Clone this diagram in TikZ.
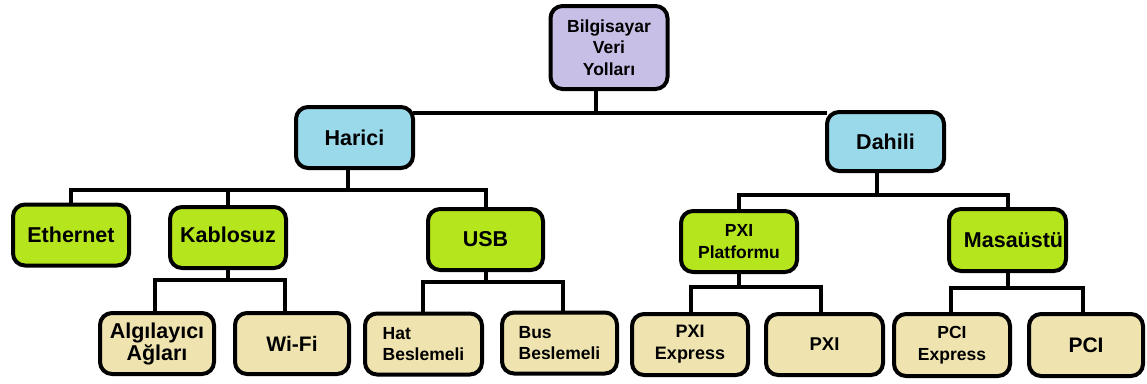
\documentclass[tikz,border=0pt]{standalone}
\usepackage{fontspec}
\setmainfont{Liberation Sans}
\definecolor{lav}{HTML}{C8BFE7}
\definecolor{lblue}{HTML}{99D9EA}
\definecolor{lgreen}{HTML}{B5E61D}
\definecolor{lbeige}{HTML}{EFE4B0}
\tikzset{
  box/.style={draw=black, line width=4pt, rounded corners=12pt, inner sep=0pt,
    font=\bfseries\fontsize{21.5}{23}\selectfont, align=center},
  small/.style={font=\bfseries\fontsize{17.5}{21.5}\selectfont},
  conn/.style={line width=4pt, line cap=rect},
}
\begin{document}
\begin{tikzpicture}[x=1pt,y=-1pt]
\useasboundingbox (0,0) rectangle (1147,383);
% level 0
\node[box, small, fill=lav, minimum width=117pt, minimum height=83pt] (root) at (609,47.5) {Bilgisayar\\Veri\\Yolları};
% level 1
\node[box, fill=lblue, minimum width=117pt, minimum height=61pt] (harici) at (354.5,137.5) {Harici};
\node[box, fill=lblue, minimum width=117pt, minimum height=59pt] (dahili) at (885.5,141.5) {Dahili};
% level 2
\node[box, fill=lgreen, minimum width=116pt, minimum height=61pt] (eth) at (71,235) {Ethernet};
\node[box, fill=lgreen, minimum width=116pt, minimum height=61pt] (kab) at (228,237.5) {\raisebox{5pt}{Kablosuz}};
\node[box, fill=lgreen, minimum width=115pt, minimum height=61pt] (usb) at (485.5,239.5) {USB};
\node[box, small, fill=lgreen, minimum width=116pt, minimum height=61pt] (pxip) at (739,241.5) {PXI\\Platformu};
\node[box, fill=lgreen, minimum width=117pt, minimum height=62pt] (masa) at (1007.5,240) {\hspace*{12pt}Masaüstü};
% level 3
\node[box, fill=lbeige, minimum width=114pt, minimum height=61pt,
  font=\bfseries\fontsize{21.5}{22}\selectfont] (alg) at (157,343.5) {Algılayıcı\\Ağları};
\node[box, fill=lbeige, minimum width=114pt, minimum height=61pt,
  font=\bfseries\fontsize{21}{22}\selectfont] (wifi) at (292,343.5) {Wi-Fi};
\node[box, small, fill=lbeige, minimum width=117pt, minimum height=61pt, align=left] (hat) at (423.5,344) {Hat\\Beslemeli};
\node[box, small, fill=lbeige, minimum width=115pt, minimum height=61pt, align=left] (bus) at (559.5,343) {Bus\\Beslemeli};
\node[box, fill=lbeige, minimum width=116pt, minimum height=61pt,
  font=\bfseries\fontsize{18}{22}\selectfont] (pxie) at (690,344.5) {PXI\\Express};
\node[box, fill=lbeige, minimum width=117pt, minimum height=61pt,
  font=\bfseries\fontsize{18.5}{22}\selectfont] (pxi) at (824.5,344.5) {PXI};
\node[box, small, fill=lbeige, minimum width=116pt, minimum height=62pt] (pcie) at (952,345) {PCI\\Express};
\node[box, fill=lbeige, minimum width=114pt, minimum height=62pt,
  font=\bfseries\fontsize{21}{22}\selectfont] (pci) at (1086,345) {PCI};
% bus coordinates
\coordinate (j0) at (596,113);
\coordinate (j1) at (348,190);
\coordinate (j2) at (877,195);
\coordinate (k1) at (155,280);
\coordinate (k2) at (285,280);
\coordinate (u1) at (423,282);
\coordinate (u2) at (563,282);
\coordinate (p1) at (691,287);
\coordinate (p2) at (821,287);
\coordinate (m1) at (951,288);
\coordinate (m2) at (1083,288);
% connectors
\draw[conn] (j0 |- root.south) -- (j0);
\draw[conn] (harici.east |- j0) -- (dahili.west |- j0);
\draw[conn] (j1 |- harici.south) -- (j1);
\draw[conn] (eth.north) |- (j1) -| (usb.north);
\draw[conn] (kab.north) -- (kab.north |- j1);
\draw[conn] (j2 |- dahili.south) -- (j2);
\draw[conn] (pxip.north) |- (j2) -| (masa.north);
\draw[conn] (kab.south) -- (kab.south |- k1);
\draw[conn] (k1 |- alg.north) |- (k2) -- (k2 |- wifi.north);
\draw[conn] (usb.south) -- (usb.south |- u1);
\draw[conn] (u1 |- hat.north) |- (u2) -- (u2 |- bus.north);
\draw[conn] (pxip.south) -- (pxip.south |- p1);
\draw[conn] (p1 |- pxie.north) |- (p2) -- (p2 |- pxi.north);
\draw[conn] (masa.south) -- (masa.south |- m1);
\draw[conn] (m1 |- pcie.north) |- (m2) -- (m2 |- pci.north);
\end{tikzpicture}
\end{document}
